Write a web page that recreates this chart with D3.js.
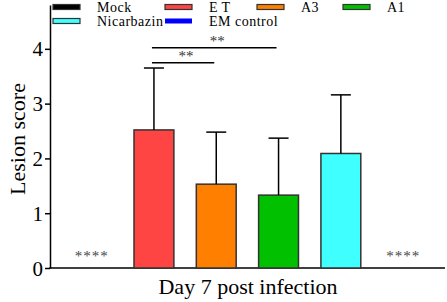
<!DOCTYPE html>
<html>
<head>
<meta charset="utf-8">
<script src="https://cdn.jsdelivr.net/npm/d3@7"></script>
<style>
  body { margin: 0; background: #fff; }
  svg { display: block; font-family: "Liberation Serif", "Times New Roman", serif; }
</style>
</head>
<body>
<div id="chart"></div>
<script>
// groups, means and SD (lesion score, day 7)
var groups = ["Mock", "ET", "A3", "A1", "Nicarbazin", "EM control"];
var means = [0, 2.52, 1.53, 1.33, 2.09, 0];
var sds = [0, 1.13, 0.95, 1.04, 1.07, 0];
var colors = ["#000000", "#ff4444", "#ff8000", "#00c000", "#40ffff", "#0000ff"];
var yTicks = [0, 1, 2, 3, 4];
// significance brackets
var sigPairs = [["ET", "A3", "**"], ["ET", "A1", "**"]];
var zeroLabels = ["Mock", "EM control"];

var W = 447, H = 302;
var svg = d3.select("#chart").append("svg")
    .attr("width", W).attr("height", H);

// Set the ranges
var y = d3.scaleLinear().domain([0, 4.8]).range([268, 5]);
var x = d3.scaleBand().domain(groups)
    .range([71.7, 423.1]).paddingInner(0.36).paddingOuter(0);

// Y axis
var yAxis = svg.append("g")
    .attr("transform", "translate(50,0)")
    .call(d3.axisLeft(y).tickValues(yTicks).tickFormat(d3.format("d")).tickSize(5).tickSizeOuter(0));
yAxis.select(".domain").attr("stroke", "#000").attr("stroke-width", 1.5);
yAxis.selectAll(".tick line").attr("stroke-width", 1.5);
yAxis.selectAll("text")
    .style("font-family", "'Liberation Serif', 'Times New Roman', serif")
    .style("font-size", "21px")
    .attr("x", -7).attr("dy", "0.34em");

// X axis line
svg.append("line")
    .attr("x1", 49.3).attr("x2", 445)
    .attr("y1", y(0)).attr("y2", y(0))
    .attr("stroke", "#000").attr("stroke-width", 1.5);

// bars
var idx = d3.range(groups.length).filter(i => means[i] > 0);
svg.selectAll("rect.bar")
    .data(idx)
    .join("rect")
    .attr("class", "bar")
    .attr("x", i => x(groups[i]))
    .attr("y", i => y(means[i]))
    .attr("width", x.bandwidth())
    .attr("height", i => y(0) - y(means[i]))
    .attr("fill", i => colors[i])
    .attr("stroke", "#333")
    .attr("stroke-width", 1.5);

// error bars
idx.forEach(function(i) {
    var cx = x(groups[i]) + x.bandwidth() / 2;
    svg.append("line")
        .attr("x1", cx).attr("x2", cx)
        .attr("y1", y(means[i])).attr("y2", y(means[i] + sds[i]))
        .attr("stroke", "#000").attr("stroke-width", 1.5);
    svg.append("line")
        .attr("x1", cx - 10).attr("x2", cx + 10)
        .attr("y1", y(means[i] + sds[i])).attr("y2", y(means[i] + sds[i]))
        .attr("stroke", "#000").attr("stroke-width", 1.5);
});

// **** on the zero groups
zeroLabels.forEach(function(g) {
    svg.append("text")
        .attr("x", x(g) + x.bandwidth() / 2)
        .attr("y", 261)
        .attr("text-anchor", "middle")
        .style("font-size", "15px")
        .attr("fill", "#444")
        .attr("letter-spacing", "1px")
        .text("****");
});

// significance lines
var sigY = [62.7, 47.7];
sigPairs.forEach(function(p, k) {
    var x1 = x(p[0]) + x.bandwidth() / 2 - 2;
    var x2 = x(p[1]) + x.bandwidth() / 2 - 2;
    svg.append("line")
        .attr("x1", x1).attr("x2", x2)
        .attr("y1", sigY[k]).attr("y2", sigY[k])
        .attr("stroke", "#000").attr("stroke-width", 1.5);
    svg.append("text")
        .attr("x", (x1 + x2) / 2 + 3)
        .attr("y", sigY[k] - 2)
        .attr("text-anchor", "middle")
        .style("font-size", "15px")
        .attr("fill", "#333")
        .text(p[2]);
});

// Legend
var legX = [53, 165, 257, 343];
groups.forEach(function(g, i) {
    var col = i % 4, row = Math.floor(i / 4);
    var lx = legX[col], ly = 7 + row * 14;
    svg.append("rect")
        .attr("x", lx).attr("y", ly - 2.5)
        .attr("width", 27).attr("height", 5)
        .attr("fill", colors[i])
        .attr("stroke", g === "EM control" ? "none" : "#333")
        .attr("stroke-width", 1.2);
    svg.append("text")
        .attr("x", lx + 44).attr("y", ly + 5)
        .style("font-size", "14px")
        .attr("letter-spacing", g === "ET" ? "4px" : "0.5px")
        .text(g);
});

// Y axis label
svg.append("text")
    .attr("transform", "rotate(-90)")
    .attr("x", -139).attr("y", 25)
    .attr("text-anchor", "middle")
    .style("font-size", "22px")
    .text("Lesion score");

// X axis label
svg.append("text")
    .attr("x", 248).attr("y", 294)
    .attr("text-anchor", "middle")
    .style("font-size", "22px")
    .text("Day 7 post infection");
</script>
</body>
</html>
